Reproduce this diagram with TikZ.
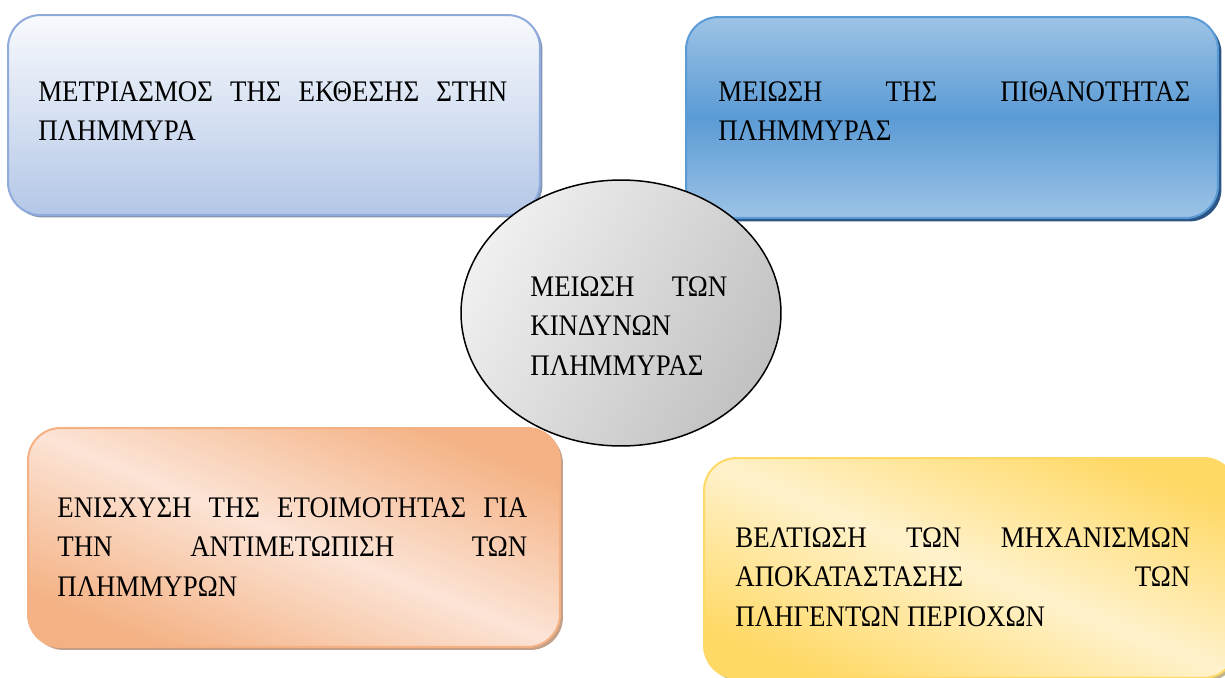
\documentclass[tikz,border=0pt]{standalone}
\usepackage{fontspec}
\setmainfont{Liberation Serif}[FakeStretch=0.9]
\usetikzlibrary{shapes.geometric,shadows}

\definecolor{expotop}{HTML}{F8FAFD}
\definecolor{expobot}{HTML}{B4C7E7}
\definecolor{expoline}{HTML}{8FAADC}
\definecolor{exposhadow}{HTML}{8497B0}
\definecolor{probedge}{HTML}{9DC3E6}
\definecolor{probmid}{HTML}{5B9BD5}
\definecolor{probshadow}{HTML}{2A5788}
\definecolor{prepdark}{HTML}{F4B183}
\definecolor{preplight}{HTML}{FCE4D6}
\definecolor{prepshadow}{HTML}{C4A088}
\definecolor{recovdark}{HTML}{FFD966}
\definecolor{recovlight}{HTML}{FFF2CC}
\definecolor{recovshadow}{HTML}{BFB38A}

\begin{document}
\begin{tikzpicture}[x=0.02cm, y=-0.02cm,
	box/.style = {rectangle, rounded corners=0.65cm, line width=0.04cm,
	minimum width=10.64cm, inner sep=0pt},
	hub/.style = {ellipse, draw=black, line width=0.03cm, top color=black!6,
	bottom color=black!24, shading angle=60, minimum width=6.4cm,
	minimum height=5.32cm, inner sep=0pt},
	txt/.style = {anchor=base west, inner sep=0pt, align=justify,
	font=\fontsize{17}{22.76}\selectfont}]

	\useasboundingbox (0,0) rectangle (1225,677);

	% the four boxes
	\node (expo) [box, draw=expoline, top color=expotop, bottom color=expobot,
		minimum height=4cm, drop shadow={shadow xshift=0.05cm,
		shadow yshift=-0.05cm, fill=exposhadow, opacity=1}] at (274,115) {};
	\node (prob) [box, draw=probmid, top color=probedge, bottom color=probedge,
		middle color=probmid, minimum height=4.02cm, drop shadow={shadow xshift=0.07cm,
		shadow yshift=-0.07cm, fill=probshadow, opacity=1}] at (952,117.5) {};
	\node (prep) [box, draw=prepdark, top color=prepdark, bottom color=prepdark,
		middle color=preplight, shading angle=-22, minimum height=4.38cm,
		drop shadow={shadow xshift=0.06cm, shadow yshift=-0.06cm, fill=prepshadow,
		opacity=1}] at (294,537.5) {};
	\node (recov) [box, draw=recovdark, top color=recovdark, bottom color=recovdark,
		middle color=recovlight, shading angle=-22, minimum height=4.4cm,
		drop shadow={shadow xshift=0.06cm, shadow yshift=-0.06cm, fill=recovshadow,
		opacity=1}] at (970,568) {};

	\node (expotxt) [txt, text width=9.38cm] at (38,101)
		{ΜΕΤΡΙΑΣΜΟΣ ΤΗΣ ΕΚΘΕΣΗΣ ΣΤΗΝ\linebreak ΠΛΗΜΜΥΡΑ};
	\node (probtxt) [txt, text width=9.44cm] at (718,101)
		{ΜΕΙΩΣΗ ΤΗΣ ΠΙΘΑΝΟΤΗΤΑΣ\linebreak ΠΛΗΜΜΥΡΑΣ};
	\node (preptxt) [txt, text width=9.4cm] at (57,517)
		{ΕΝΙΣΧΥΣΗ ΤΗΣ ΕΤΟΙΜΟΤΗΤΑΣ ΓΙΑ\linebreak ΤΗΝ ΑΝΤΙΜΕΤΩΠΙΣΗ ΤΩΝ\linebreak ΠΛΗΜΜΥΡΩΝ};
	\node (recovtxt) [txt, text width=9.1cm] at (735,547)
		{ΒΕΛΤΙΩΣΗ ΤΩΝ ΜΗΧΑΝΙΣΜΩΝ\linebreak ΑΠΟΚΑΤΑΣΤΑΣΗΣ ΤΩΝ\linebreak ΠΛΗΓΕΝΤΩΝ ΠΕΡΙΟΧΩΝ};

	% centre
	\node (core) [hub] at (621,313) {};
	\node (coretxt) [txt, text width=3.94cm] at (530,296)
		{ΜΕΙΩΣΗ ΤΩΝ\linebreak ΚΙΝΔΥΝΩΝ\linebreak ΠΛΗΜΜΥΡΑΣ};
\end{tikzpicture}
\end{document}
